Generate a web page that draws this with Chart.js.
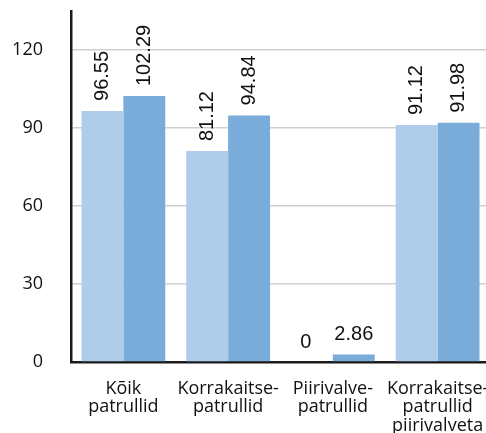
<!DOCTYPE html>
<html lang="et">
<head>
    <meta charset="UTF-8">
    <title>Patrullid</title>
    <script src="https://cdn.jsdelivr.net/npm/chart.js"></script>
    <style>
        html, body { margin: 0; padding: 0; background: #fff; overflow: hidden; }
        #wrap { position: absolute; left: 0; top: 0; width: 490px; height: 445px; }
    </style>
</head>
<body>
    <div id="wrap"><canvas id="patrullChart"></canvas></div>

    <script>
        // Andmed
        const kategooriad = [
            ['Kõik', 'patrullid'],
            ['Korrakaitse-', 'patrullid'],
            ['Piirivalve-', 'patrullid'],
            ['Korrakaitse-', 'patrullid', 'piirivalveta']
        ];
        const seeria1 = [96.55, 81.12, 0, 91.12];
        const seeria2 = [102.29, 94.84, 2.86, 91.98];
        const yTicks = [0, 30, 60, 90, 120];

        // väärtused tulpade kohale
        const sildid = {
            id: 'sildid',
            afterDatasetsDraw(chart) {
                const ctx = chart.ctx;
                ctx.save();
                ctx.fillStyle = '#111';
                ctx.font = '20px "Liberation Sans", Arial, sans-serif';
                chart.data.datasets.forEach((ds, i) => {
                    chart.getDatasetMeta(i).data.forEach((bar, j) => {
                        const v = ds.data[j];
                        const txt = String(v);
                        if (v >= 10) {
                            ctx.save();
                            ctx.translate(bar.x, bar.y - 10);
                            ctx.rotate(-Math.PI / 2);
                            ctx.textAlign = 'left';
                            ctx.textBaseline = 'middle';
                            ctx.fillText(txt, 0, 0);
                            ctx.restore();
                        } else {
                            ctx.textAlign = 'center';
                            ctx.textBaseline = 'bottom';
                            ctx.fillText(txt, bar.x - (i === 0 ? 6 : 0), bar.y - 10);
                        }
                    });
                });
                ctx.restore();
            }
        };

        new Chart(document.getElementById('patrullChart'), {
            type: 'bar',
            data: {
                labels: kategooriad,
                datasets: [
                    { data: seeria1, backgroundColor: '#afcdeb' },
                    { data: seeria2, backgroundColor: '#79acd9' }
                ]
            },
            options: {
                responsive: true,
                maintainAspectRatio: false,
                animation: false,
                layout: { padding: { top: 11, right: 0, left: 0, bottom: 0 } },
                plugins: { legend: { display: false }, tooltip: { enabled: false } },
                datasets: { bar: { categoryPercentage: 0.8, barPercentage: 1.0 } },
                scales: {
                    x: {
                        grid: { display: false, drawTicks: false },
                        border: { display: true, color: '#1a1a1a', width: 2.5 },
                        ticks: {
                            color: '#111',
                            padding: 17,
                            maxRotation: 0,
                            font: { family: '"Open Sans", sans-serif', size: 18, lineHeight: 1.05 }
                        },
                        afterFit(scale) { scale.height = 83; scale.paddingLeft = 0; scale.paddingRight = 0; }
                    },
                    y: {
                        min: 0,
                        max: 135,
                        afterBuildTicks(scale) { scale.ticks = yTicks.map(v => ({ value: v })); },
                        grid: { color: '#cfcfcf', lineWidth: 1.5, drawTicks: false },
                        border: { color: '#1a1a1a', width: 2.5 },
                        ticks: {
                            color: '#111',
                            padding: 28,
                            font: { family: '"Open Sans", sans-serif', size: 18 }
                        },
                        afterFit(scale) { scale.width = 71; scale.paddingTop = 0; scale.paddingBottom = 0; }
                    }
                }
            },
            plugins: [sildid]
        });
    </script>
</body>
</html>
